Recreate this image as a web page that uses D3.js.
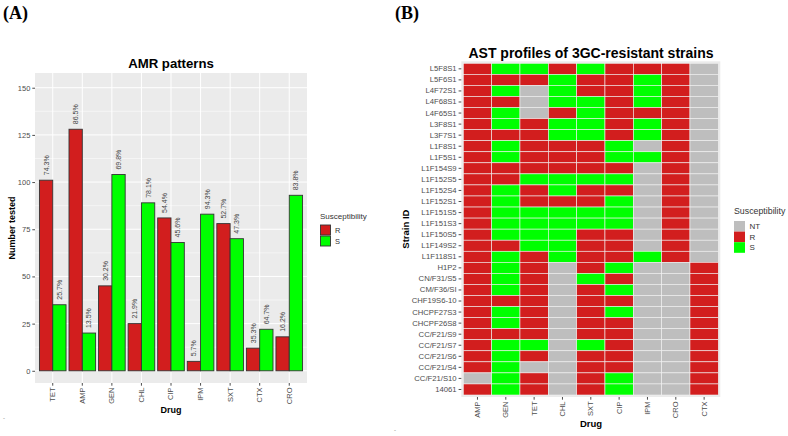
<!DOCTYPE html>
<html><head><meta charset="utf-8">
<script src="https://cdn.jsdelivr.net/npm/d3@7"></script>
<style>body{margin:0;background:#fff}svg{display:block;font-family:"Liberation Sans",Arial,sans-serif}</style>
</head><body><svg id="c" width="788" height="436"></svg>
<script>
// ---------- Panel A data ----------
const drugsA = ["TET","AMP","GEN","CHL","CIP","IPM","SXT","CTX","CRO"];
const resistant = [101,128,45,25,81,5,78,12,18];
const susceptible = [35,20,104,89,68,83,70,22,93];
const pctR = ["74.3%","86.5%","30.2%","21.9%","54.4%","5.7%","52.7%","35.3%","16.2%"];
const pctS = ["25.7%","13.5%","69.8%","78.1%","45.6%","94.3%","47.3%","64.7%","83.8%"];
const yTicksA = [0,25,50,75,100,125,150];

// ---------- Panel B data ----------
const drugsB = ["AMP","GEN","TET","CHL","SXT","CIP","IPM","CRO","CTX"];
const strains = ["L5F8S1","L5F6S1","L4F72S1","L4F68S1","L4F65S1","L3F8S1","L3F7S1","L1F8S1","L1F5S1","L1F154S9","L1F152S5","L1F152S4","L1F152S1","L1F151S5","L1F151S3","L1F150S5","L1F149S2","L1F118S1","H1P2","CN/F31/S5","CM/F36/SI","CHF19S6-10","CHCPF27S3","CHCPF26S8","CC/F21/S9","CC/F21/S7","CC/F21/S6","CC/F21/S4","CC/F21/S10","14061"];
const profiles = [
"R S S R S R R R NT",
"R R R S R R S R NT",
"R S NT S R R S R NT",
"R R NT S S R S R NT",
"R S NT R S R R R NT",
"R S R S S R S R NT",
"R R R S S R S R NT",
"R S R R R S NT R NT",
"R S R R R S S R NT",
"R R R R R R NT R NT",
"R R S S S S NT R NT",
"R S R S R R NT R NT",
"R S R R R S NT R NT",
"R S S S S S NT R NT",
"R S S S S S NT R NT",
"R S S S R R NT R NT",
"R R S S R R NT R NT",
"R S R S R R S R NT",
"R S R NT R S NT NT R",
"R S R NT S R NT NT R",
"R S R NT R S NT NT R",
"R R R NT R R NT NT R",
"R S R NT R S NT NT R",
"R S R NT R R NT NT R",
"R R R NT R R NT NT R",
"R S S NT S R NT NT R",
"R S R NT R R NT NT R",
"R S NT NT R R NT NT R",
"NT S R NT R S NT NT R",
"R S R NT R S NT NT R"];
const levels = ["NT","R","S"];
const colorMap = {NT:"#BEBEBE", R:"#D21E1E", S:"#00FF00"};

const svg = d3.select("#c");
const tickCol = "#4D4D4D";

// Panel labels
svg.append("text").attr("x",3).attr("y",19).attr("font-family","Liberation Serif,serif").attr("font-weight","bold").attr("font-size",18).text("(A)");
svg.append("text").attr("x",395).attr("y",19).attr("font-family","Liberation Serif,serif").attr("font-weight","bold").attr("font-size",18).text("(B)");
svg.append("text").attr("x",3).attr("y",420).attr("font-size",6).attr("fill","#777").text("-");
svg.append("text").attr("x",394).attr("y",432).attr("font-size",6).attr("fill","#777").text("-");

// ================= Panel A =================
const A = {l:35, r:307, t:73, b:383};
const x = d3.scaleBand().domain(drugsA).range([A.l,A.r]).paddingInner(0.1).paddingOuter(0.15);
const xs = d3.scaleBand().domain(["R","S"]).range([0,x.bandwidth()]);
const y = d3.scaleLinear().domain([-6.47,157.8]).range([A.b,A.t]);
const gA = svg.append("g");
gA.append("rect").attr("x",A.l).attr("y",A.t).attr("width",A.r-A.l).attr("height",A.b-A.t).attr("fill","#EBEBEB");
// minor grid
gA.selectAll(".mn").data(d3.range(12.5,160,25)).enter().append("line")
  .attr("x1",A.l).attr("x2",A.r).attr("y1",d=>y(d)).attr("y2",d=>y(d)).attr("stroke","#fff").attr("stroke-width",0.5);
gA.selectAll(".mj").data(yTicksA).enter().append("line")
  .attr("x1",A.l).attr("x2",A.r).attr("y1",d=>y(d)).attr("y2",d=>y(d)).attr("stroke","#fff").attr("stroke-width",1);
gA.selectAll(".vx").data(drugsA).enter().append("line")
  .attr("x1",d=>x(d)+x.bandwidth()/2).attr("x2",d=>x(d)+x.bandwidth()/2).attr("y1",A.t).attr("y2",A.b).attr("stroke","#fff").attr("stroke-width",1);

const barData = [];
drugsA.forEach((d,i)=>{
  barData.push({drug:d,s:"R",v:resistant[i],lab:pctR[i]});
  barData.push({drug:d,s:"S",v:susceptible[i],lab:pctS[i]});
});
gA.selectAll(".bar").data(barData).enter().append("rect")
  .attr("x",d=>x(d.drug)+xs(d.s)).attr("width",xs.bandwidth())
  .attr("y",d=>y(d.v)).attr("height",d=>y(0)-y(d.v))
  .attr("fill",d=>d.s==="R"?colorMap.R:colorMap.S).attr("stroke","#333").attr("stroke-width",0.9);
gA.selectAll(".bl").data(barData).enter().append("text")
  .attr("transform",d=>`translate(${x(d.drug)+xs(d.s)+xs.bandwidth()/2+2.5},${y(d.v)-5}) rotate(-90)`)
  .attr("font-size",7).attr("fill","#444").text(d=>d.lab);

// axes
const yAx = gA.append("g").attr("transform",`translate(${A.l},0)`)
  .call(d3.axisLeft(y).tickValues(yTicksA).tickSize(2.7).tickPadding(2));
yAx.select(".domain").remove();
yAx.selectAll("line").attr("stroke",tickCol);
yAx.selectAll("text").attr("font-size",7.5).attr("fill",tickCol).attr("font-family","Liberation Sans,Arial,sans-serif");
const xAx = gA.append("g").attr("transform",`translate(0,${A.b})`)
  .call(d3.axisBottom(x).tickSize(2.7).tickPadding(2));
xAx.select(".domain").remove();
xAx.selectAll("line").attr("stroke",tickCol);
xAx.selectAll("text").attr("font-size",7.5).attr("fill",tickCol).attr("font-family","Liberation Sans,Arial,sans-serif")
  .attr("transform","rotate(-90)").attr("text-anchor","end").attr("dy","0.32em").attr("x",-4.5).attr("y",0);

gA.append("text").attr("x",(A.l+A.r)/2).attr("y",68).attr("text-anchor","middle").attr("font-weight","bold").attr("font-size",13.2).text("AMR patterns");
gA.append("text").attr("x",(A.l+A.r)/2).attr("y",413).attr("text-anchor","middle").attr("font-weight","bold").attr("font-size",9).text("Drug");
gA.append("text").attr("transform",`translate(15,${(A.t+A.b)/2}) rotate(-90)`).attr("text-anchor","middle").attr("font-weight","bold").attr("font-size",9).text("Number tested");

// legend A
const lA = gA.append("g").attr("transform","translate(320,219)");
lA.append("text").attr("x",0).attr("y",0).attr("font-size",8).attr("fill","#333").text("Susceptibility");
["R","S"].forEach((k,i)=>{
  lA.append("rect").attr("x",0.5).attr("y",6+i*11).attr("width",10).attr("height",10).attr("fill",colorMap[k]).attr("stroke","#333").attr("stroke-width",0.9);
  lA.append("text").attr("x",15).attr("y",11+i*11).attr("dy","0.35em").attr("font-size",7.5).attr("fill","#333").text(k);
});

// ================= Panel B =================
const B = {l:463.3, r:718.3, t:63.3, b:395};
const xb = d3.scaleBand().domain(drugsB).range([B.l,B.r]);
const yb = d3.scaleBand().domain(strains).range([B.t,B.b]);
const gB = svg.append("g");
gB.append("rect").attr("x",B.l-2).attr("y",B.t-2).attr("width",B.r-B.l+4).attr("height",B.b-B.t+4).attr("fill","#EBEBEB");
const cells = [];
strains.forEach((s,i)=>{
  profiles[i].split(" ").forEach((v,j)=>cells.push({s:s,d:drugsB[j],v:v}));
});
gB.selectAll(".cell").data(cells).enter().append("rect")
  .attr("x",d=>xb(d.d)).attr("y",d=>yb(d.s)).attr("width",xb.bandwidth()).attr("height",yb.bandwidth())
  .attr("fill",d=>colorMap[d.v]).attr("stroke","#F2F2F2").attr("stroke-width",0.6);

const ybAx = gB.append("g").attr("transform",`translate(${B.l-2},0)`)
  .call(d3.axisLeft(yb).tickSize(2.7).tickPadding(2));
ybAx.select(".domain").remove();
ybAx.selectAll("line").attr("stroke",tickCol);
ybAx.selectAll("text").attr("font-size",7.7).attr("fill",tickCol).attr("font-family","Liberation Sans,Arial,sans-serif");
const xbAx = gB.append("g").attr("transform",`translate(0,${B.b+2})`)
  .call(d3.axisBottom(xb).tickSize(2.7).tickPadding(2));
xbAx.select(".domain").remove();
xbAx.selectAll("line").attr("stroke",tickCol);
xbAx.selectAll("text").attr("font-size",7.5).attr("fill",tickCol).attr("font-family","Liberation Sans,Arial,sans-serif")
  .attr("transform","rotate(-90)").attr("text-anchor","end").attr("dy","0.32em").attr("x",-4.5).attr("y",0);

gB.append("text").attr("x",591).attr("y",58).attr("text-anchor","middle").attr("font-weight","bold").attr("font-size",14).text("AST profiles of 3GC-resistant strains");
gB.append("text").attr("x",591).attr("y",427).attr("text-anchor","middle").attr("font-weight","bold").attr("font-size",9.5).text("Drug");
gB.append("text").attr("transform",`translate(409,${(B.t+B.b)/2}) rotate(-90)`).attr("text-anchor","middle").attr("font-weight","bold").attr("font-size",9.5).text("Strain ID");

const lB = gB.append("g").attr("transform","translate(734,214)");
lB.append("text").attr("x",0).attr("y",0).attr("font-size",8.8).attr("fill","#333").text("Susceptibility");
levels.forEach((k,i)=>{
  lB.append("rect").attr("x",0).attr("y",7+i*10.6).attr("width",11).attr("height",10.6).attr("fill",colorMap[k]);
  lB.append("text").attr("x",15.5).attr("y",7+i*10.6+5.3).attr("dy","0.35em").attr("font-size",8).attr("fill","#333").text(k);
});
</script></body></html>
